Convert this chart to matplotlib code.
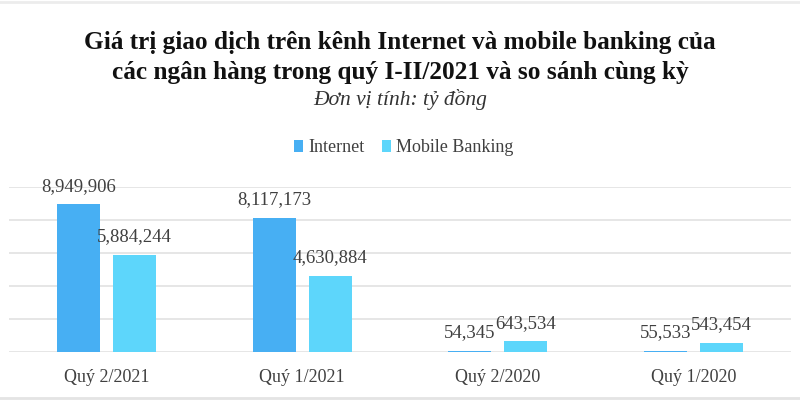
import matplotlib.pyplot as plt
import numpy as np

# data
categories = ['Quý 2/2021', 'Quý 1/2021', 'Quý 2/2020', 'Quý 1/2020']
internet = [8949906, 8117173, 54345, 55533]
mobile = [5884244, 4630884, 643534, 543454]
series_names = ['Internet', 'Mobile Banking']

plt.rcParams['font.family'] = ['Liberation Serif', 'DejaVu Serif']

fig = plt.figure(figsize=(8, 4), dpi=100)
ax = fig.add_axes([0.011, 0.12, 0.978, 0.4125])

x = np.arange(len(categories))
w = 0.22
off = 0.143
b1 = ax.bar(x - off, internet, w, color='#47AFF3', label=series_names[0], zorder=3)
b2 = ax.bar(x + off, mobile, w, color='#5DD6FB', label=series_names[1], zorder=3)

for bars in (b1, b2):
    for r in bars:
        ax.annotate(f'{int(r.get_height()):,}',
                    (r.get_x() + r.get_width() / 2, r.get_height()),
                    xytext=(0, 7), textcoords='offset points',
                    ha='center', va='bottom', fontsize=13.5, color='#404040')

ax.set_xlim(-0.5, 3.5)
ax.set_ylim(0, 10000000)
ax.set_yticks(np.arange(0, 10000001, 2000000))
ax.yaxis.grid(True, color='#e2e2e2', linewidth=1.2, zorder=0)
ax.tick_params(axis='y', left=False, labelleft=False)
ax.tick_params(axis='x', length=0, pad=12, labelsize=13, labelcolor='#404040')
ax.set_xticks(x)
ax.set_xticklabels(categories)
for s in ax.spines.values():
    s.set_visible(False)

fig.text(0.5, 0.856, 'Giá trị giao dịch trên kênh Internet và mobile banking của\n'
         'các ngân hàng trong quý I-II/2021 và so sánh cùng kỳ',
         ha='center', va='center', fontsize=18.2, fontweight='bold',
         linespacing=1.42, color='#111111')
fig.text(0.5, 0.752, 'Đơn vị tính: tỷ đồng', ha='center', va='center',
         fontsize=15.5, style='italic', color='#333333')

fig.legend(handles=[b1, b2], loc='center', bbox_to_anchor=(0.505, 0.630), ncol=2,
           frameon=False, fontsize=13, handlelength=0.5, handleheight=0.6,
           handletextpad=0.3, columnspacing=0.95, labelcolor='#404040')

# faint screenshot borders at top and bottom
fig.add_artist(plt.Line2D([0, 1], [0.996, 0.996], color='#ececec', linewidth=2))
fig.add_artist(plt.Line2D([0, 1], [0.006, 0.006], color='#e4e4e4', linewidth=2))

fig.savefig('out.png', dpi=100)
